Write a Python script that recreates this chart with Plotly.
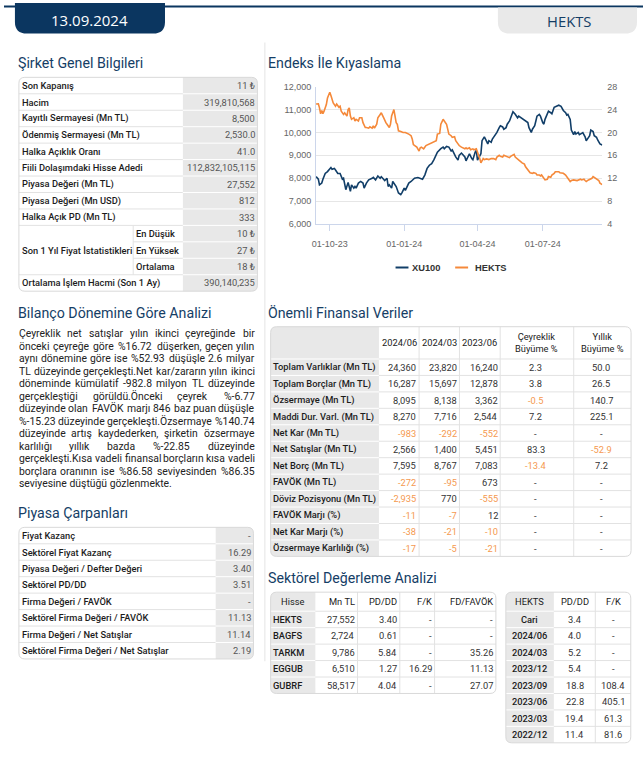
import plotly.graph_objects as go
import pandas as pd

# ---------------------------------------------------------------- data
REPORT_DATE = "13.09.2024"
TICKER = "HEKTS"

GENEL_LABELS = ["Son Kapanış", "Hacim", "Kayıtlı Sermayesi (Mn TL)", "Ödenmiş Sermayesi (Mn TL)",
                "Halka Açıklık Oranı", "Fiili Dolaşımdaki Hisse Adedi", "Piyasa Değeri (Mn TL)",
                "Piyasa Değeri (Mn USD)", "Halka Açık PD (Mn TL)"]
GENEL_VALUES = ["11 ₺", "319,810,568", "8,500", "2,530.0", "41.0", "112,832,105,115",
                "27,552", "812", "333"]
STAT_GROUP = "Son 1 Yıl Fiyat İstatistikleri"
STAT_LABELS = ["En Düşük", "En Yüksek", "Ortalama"]
STAT_VALUES = ["10 ₺", "27 ₺", "18 ₺"]
AVG_VOL_LABEL = "Ortalama İşlem Hacmi (Son 1 Ay)"
AVG_VOL_VALUE = "390,140,235"

PARA_LINES = [
    "Çeyreklik net satışlar yılın ikinci çeyreğinde bir",
    "önceki çeyreğe göre %16.72 düşerken, geçen yılın",
    "aynı dönemine göre ise %52.93 düşüşle 2.6 milyar",
    "TL düzeyinde gerçekleşti.Net kar/zararın yılın ikinci",
    "döneminde kümülatif -982.8 milyon TL düzeyinde",
    "gerçekleştiği görüldü.Önceki çeyrek %-6.77",
    "düzeyinde olan FAVÖK marjı 846 baz puan düşüşle",
    "%-15.23 düzeyinde gerçekleşti.Özsermaye %140.74",
    "düzeyinde artış kaydederken, şirketin özsermaye",
    "karlılığı yıllık bazda %-22.85 düzeyinde",
    "gerçekleşti.Kısa vadeli finansal borçların kısa vadeli",
    "borçlara oranının ise %86.58 seviyesinden %86.35",
    "seviyesine düştüğü gözlenmekte.",
]

CARPAN_LABELS = ["Fiyat Kazanç", "Sektörel Fiyat Kazanç", "Piyasa Değeri / Defter Değeri",
                 "Sektörel PD/DD", "Firma Değeri / FAVÖK", "Sektörel Firma Değeri / FAVÖK",
                 "Firma Değeri / Net Satışlar", "Sektörel Firma Değeri / Net Satışlar"]
CARPAN_VALUES = ["-", "16.29", "3.40", "3.51", "-", "11.13", "11.14", "2.19"]

FIN_HEADERS = ["2024/06", "2024/03", "2023/06", "Çeyreklik<br>Büyüme %", "Yıllık<br>Büyüme %"]
FIN_LABELS = ["Toplam Varlıklar (Mn TL)", "Toplam Borçlar (Mn TL)", "Özsermaye (Mn TL)",
              "Maddi Dur. Varl. (Mn TL)", "Net Kar (Mn TL)", "Net Satışlar (Mn TL)",
              "Net Borç (Mn TL)", "FAVÖK (Mn TL)", "Döviz Pozisyonu (Mn TL)", "FAVÖK Marjı (%)",
              "Net Kar Marjı (%)", "Özsermaye Karlılığı (%)"]
FIN_2024_06 = ["24,360", "16,287", "8,095", "8,270", "-983", "2,566", "7,595", "-272", "-2,935", "-11", "-38", "-17"]
FIN_2024_03 = ["23,820", "15,697", "8,138", "7,716", "-292", "1,400", "8,767", "-95", "770", "-7", "-21", "-5"]
FIN_2023_06 = ["16,240", "12,878", "3,362", "2,544", "-552", "5,451", "7,083", "673", "-555", "12", "-10", "-21"]
FIN_QOQ = ["2.3", "3.8", "-0.5", "7.2", "-", "83.3", "-13.4", "-", "-", "-", "-", "-"]
FIN_YOY = ["50.0", "26.5", "140.7", "225.1", "-", "-52.9", "7.2", "-", "-", "-", "-", "-"]

SEK_HEADERS = ["Hisse", "Mn TL", "PD/DD", "F/K", "FD/FAVÖK"]
SEK_TICKERS = ["HEKTS", "BAGFS", "TARKM", "EGGUB", "GUBRF"]
SEK_MNTL = ["27,552", "2,724", "9,786", "6,510", "58,517"]
SEK_PDDD = ["3.40", "0.61", "5.84", "1.27", "4.04"]
SEK_FK = ["-", "-", "-", "16.29", "-"]
SEK_FDFAVOK = ["-", "-", "35.26", "11.13", "27.07"]

HIST_HEADERS = ["HEKTS", "PD/DD", "F/K"]
HIST_PERIODS = ["Cari", "2024/06", "2024/03", "2023/12", "2023/09", "2023/06", "2023/03", "2022/12"]
HIST_PDDD = ["3.4", "4.0", "5.2", "5.4", "18.8", "22.8", "19.4", "11.4"]
HIST_FK = ["-", "-", "-", "-", "108.4", "405.1", "61.3", "81.6"]

# price chart (trading-day index within the 1-year window)
START, END = "2023-09-14", "2024-09-13"
HOLIDAYS = ["2024-01-01", "2024-04-10", "2024-04-11", "2024-04-12", "2024-04-23", "2024-05-01",
            "2024-06-17", "2024-06-18", "2024-06-19", "2024-07-15", "2024-08-30"]
X_TICKS = ["2023-10-02", "2024-01-02", "2024-04-01", "2024-07-01"]
X_TICK_TEXT = ["01-10-23", "01-01-24", "01-04-24", "01-07-24"]

XU100_DAY = [0, 2, 3, 5, 6, 8, 10, 11, 13, 14, 16, 17, 19, 21, 23, 24, 25, 26, 28, 29, 30, 31, 33, 34, 35,
             37, 39, 41, 42, 44, 46, 49, 50, 52, 54, 56, 57, 59, 60, 62, 63, 64, 66, 67, 69, 70, 72, 74,
             75, 77, 78, 80, 81, 83, 85, 86, 89, 92, 93, 95, 97, 99, 101, 103, 105, 106, 109, 111, 112,
             114, 116, 118, 119, 121, 122, 124, 125, 127, 128, 130, 131, 133, 134, 136, 137, 139, 140,
             141, 143, 144, 145, 147, 148, 150, 151, 153, 154, 156, 158, 160, 161, 163, 164, 166, 167,
             169, 171, 172, 174, 176, 177, 179, 180, 182, 183, 185, 186, 188, 189, 191, 192, 193, 195,
             196, 198, 199, 200, 202, 203, 205, 206, 208, 210, 212, 214, 216, 218, 219, 220, 222, 223,
             225, 226, 227, 229, 230, 232, 233, 235, 236, 237, 239, 240, 242, 243, 245, 246, 248, 250]
XU100_VAL = [8070, 7960, 7710, 7790, 7960, 8210, 8290, 8360, 8470, 8390, 8430, 8360, 8210, 8210, 7960,
             8000, 7710, 7500, 7820, 7570, 7430, 7710, 7570, 7640, 7570, 7790, 7860, 7790, 7570, 7790,
             7930, 8000, 8040, 7930, 8100, 8000, 8070, 7960, 7900, 8000, 7640, 7710, 7570, 7860, 7710,
             7640, 7360, 7290, 7360, 7570, 7470, 7670, 7790, 7860, 7930, 8000, 8030, 8000, 7960, 8140,
             8430, 8570, 8640, 8810, 9000, 9140, 9290, 9360, 9290, 9390, 9360, 9190, 9240, 9000, 8930,
             8790, 9000, 9100, 9040, 8930, 8760, 8930, 9070, 8860, 8810, 9140, 9210, 8790, 9000, 9070,
             9640, 9810, 9710, 9500, 9640, 9570, 9710, 9860, 10000, 10210, 10290, 10240, 10140, 10210,
             10360, 10500, 10790, 10900, 10790, 10640, 10710, 10640, 10570, 10500, 10500, 10430, 10210,
             10000, 10140, 10290, 10500, 10710, 10790, 10710, 10430, 10360, 10570, 10860, 10930, 10860,
             10810, 11100, 11140, 11190, 11140, 10960, 10860, 10760, 10790, 10570, 10100, 9900, 10040,
             9930, 10000, 9900, 9960, 9990, 9810, 9640, 9710, 9860, 10100, 10040, 9860, 9790, 9670,
             9500, 9450]

HEKTS_DAY = [0, 2, 3, 4, 5, 6, 7, 8, 9, 10, 12, 13, 14, 15, 17, 18, 20, 21, 22, 24, 25, 27, 28, 29, 30,
             31, 33, 34, 35, 37, 38, 40, 41, 43, 44, 46, 47, 49, 50, 51, 53, 54, 56, 57, 59, 60, 61, 62,
             63, 64, 65, 66, 68, 69, 70, 71, 72, 74, 76, 78, 80, 81, 83, 84, 85, 88, 90, 91, 92, 94, 96,
             99, 101, 103, 105, 106, 108, 109, 111, 112, 114, 115, 116, 118, 119, 121, 122, 124, 125,
             127, 128, 130, 131, 132, 134, 135, 137, 138, 140, 141, 142, 143, 144, 145, 146, 147, 149,
             151, 153, 155, 157, 158, 160, 161, 163, 164, 166, 167, 169, 170, 171, 173, 174, 176, 177,
             179, 180, 182, 183, 184, 186, 187, 189, 190, 192, 193, 195, 196, 197, 199, 200, 202, 203,
             205, 206, 208, 209, 210, 212, 213, 215, 216, 218, 219, 221, 222, 223, 225, 228, 231, 232,
             234, 235, 236, 238, 239, 241, 242, 244, 245, 247, 248, 250]
HEKTS_VAL = [24.97, 25.0, 24.29, 23.26, 23.83, 23.26, 23.71, 24.29, 24.86, 26.0, 27.03, 26.46, 25.71,
             25.14, 24.57, 24.97, 24.4, 24.57, 23.71, 23.14, 23.43, 22.86, 24.0, 24.29, 22.86, 22.29,
             22.57, 22.0, 22.29, 22.0, 22.57, 22.57, 21.71, 20.86, 20.86, 20.74, 20.97, 20.74, 21.14,
             20.74, 21.43, 22.57, 23.14, 23.43, 22.57, 22.0, 21.71, 21.43, 21.14, 20.86, 21.43, 22.86,
             24.0, 22.86, 21.71, 21.43, 20.29, 20.17, 20.0, 20.0, 19.83, 19.71, 19.43, 18.86, 17.89,
             17.43, 16.74, 17.31, 17.43, 17.14, 17.71, 18.0, 18.11, 18.29, 18.57, 19.71, 19.83, 21.43,
             22.29, 22.0, 21.43, 20.57, 19.71, 19.43, 19.14, 19.26, 18.57, 18.0, 17.71, 17.43, 17.31,
             17.14, 17.31, 17.14, 17.31, 16.97, 17.14, 16.97, 17.14, 16.57, 16.29, 15.43, 14.69, 15.03,
             15.43, 15.26, 15.37, 15.26, 15.43, 15.43, 15.26, 15.71, 16.0, 15.83, 15.71, 16.0, 15.83,
             15.71, 15.6, 15.83, 16.0, 16.17, 15.71, 15.43, 15.14, 14.86, 14.69, 14.46, 14.0, 13.71,
             13.14, 12.97, 12.86, 12.97, 12.86, 12.57, 12.57, 12.4, 12.57, 12.0, 11.71, 11.83, 12.29,
             12.17, 12.57, 12.86, 13.14, 13.14, 13.14, 12.97, 12.97, 12.86, 12.57, 12.29, 11.83, 11.43,
             11.6, 11.71, 11.6, 11.83, 11.71, 11.83, 11.6, 11.43, 11.71, 11.83, 12.0, 12.29, 12.0, 12.0,
             11.6, 11.14, 10.9]

# ---------------------------------------------------------------- helpers
W, H = 643, 760
NAVY = "#0b3660"
HEAD = "#153e66"
GRAY = "#e8e8e8"
SEP = "#e2e2e2"
BORDER = "#d9d9d9"
NEG = "#f5994f"
ORANGE = "#f5893a"
LINE_NAVY = "#113e68"

shapes, annos = [], []


def X(px):
    return px / W


def Y(py):
    return 1 - py / H


def text(x, y, s, size=9.3, color="#222", weight=400, anchor="left", family="Roboto"):
    annos.append(dict(x=X(x), y=Y(y), xref="paper", yref="paper", text=s, showarrow=False,
                      xanchor=anchor, yanchor="middle", align=anchor, borderpad=0, borderwidth=0,
                      font=dict(family=family, size=size, color=color, weight=weight)))


def line(x0, y0, x1, y1, color, width=1):
    shapes.append(dict(type="line", xref="paper", yref="paper", x0=X(x0), y0=Y(y0),
                       x1=X(x1), y1=Y(y1), line=dict(color=color, width=width), layer="above"))


def rpath(x0, y0, x1, y1, r, corners, fill=None, lc=None, lw=0):
    tl = r if "tl" in corners else 0
    tr = r if "tr" in corners else 0
    br = r if "br" in corners else 0
    bl = r if "bl" in corners else 0
    p = (f"M {X(x0 + tl)},{Y(y0)} L {X(x1 - tr)},{Y(y0)} Q {X(x1)},{Y(y0)} {X(x1)},{Y(y0 + tr)} "
         f"L {X(x1)},{Y(y1 - br)} Q {X(x1)},{Y(y1)} {X(x1 - br)},{Y(y1)} "
         f"L {X(x0 + bl)},{Y(y1)} Q {X(x0)},{Y(y1)} {X(x0)},{Y(y1 - bl)} "
         f"L {X(x0)},{Y(y0 + tl)} Q {X(x0)},{Y(y0)} {X(x0 + tl)},{Y(y0)} Z")
    d = dict(type="path", xref="paper", yref="paper", path=p, layer="above",
             line=dict(width=lw, color=lc or "rgba(0,0,0,0)"))
    d["fillcolor"] = fill if fill else "rgba(0,0,0,0)"
    shapes.append(d)


def heading(x, y, s):
    text(x, y, s, size=14.2, color=HEAD, family="Roboto")


def vcolor(v):
    return NEG if (v.startswith("-") and len(v) > 1) else "#333"


# ---------------------------------------------------------------- header
line(0, 1.5, W, 1.5, NAVY, 2)
rpath(11, -2, 162, 29, 12, "br bl", fill=NAVY)
text(86.5, 15.5, REPORT_DATE, size=15, color="white", anchor="center", family="Open Sans")
rpath(497, 2.5, 637, 29, 12, "br bl", fill="#e9e9e9")
text(569, 16, TICKER, size=14.8, color=HEAD, anchor="center", family="Open Sans")
line(262.5, 38, 262.5, 665, "#e4e4e4")

# ---------------------------------------------------------------- Şirket Genel Bilgileri
heading(14, 58.5, "Şirket Genel Bilgileri")
tx0, tx1, txv, txs, ttop, rh = 15, 255, 180, 130, 73.3, 16.67
nrows = len(GENEL_LABELS) + len(STAT_LABELS) + 1
tb = ttop + nrows * rh
rpath(tx0, ttop, tx1, tb, 6, "tl tr br bl", fill="white")
rpath(txv, ttop, tx1, tb, 6, "tr br", fill=GRAY)
ns = len(GENEL_LABELS)
for i in range(1, nrows):
    yy = ttop + i * rh
    if ns < i < ns + len(STAT_LABELS):
        line(txs, yy, txv, yy, SEP)
    else:
        line(tx0, yy, txv, yy, SEP)
    line(txv, yy, tx1, yy, "white")
line(txs, ttop + ns * rh, txs, ttop + (ns + len(STAT_LABELS)) * rh, SEP)
rpath(tx0, ttop, tx1, tb, 6, "tl tr br bl", lc=BORDER, lw=1)
for i, (lab, val) in enumerate(zip(GENEL_LABELS, GENEL_VALUES)):
    yc = ttop + (i + 0.5) * rh
    text(18.5, yc, lab, weight=500, color="#1c1c1c")
    text(252.5, yc, val, color="#555", anchor="right")
text(18.5, ttop + (ns + 1.5) * rh, STAT_GROUP, weight=500, color="#1c1c1c")
for j, (lab, val) in enumerate(zip(STAT_LABELS, STAT_VALUES)):
    yc = ttop + (ns + j + 0.5) * rh
    text(132.5, yc, lab, weight=500, color="#1c1c1c")
    text(252.5, yc, val, color="#555", anchor="right")
yc = ttop + (nrows - 0.5) * rh
text(18.5, yc, AVG_VOL_LABEL, weight=500, color="#1c1c1c")
text(252.5, yc, AVG_VOL_VALUE, color="#555", anchor="right")

# ---------------------------------------------------------------- Bilanço paragraph (justified)
heading(14, 312.3, "Bilanço Dönemine Göre Analizi")
RB_W = dict(zip("abcdefghijklmnopqrstuvwxyz",
                [1088, 1120, 1046, 1126, 1058, 694, 1120, 1100, 486, 478, 1014, 486, 1753, 1102, 1141,
                 1120, 1134, 678, 1031, 653, 1101, 968, 1502, 991, 946, 991]))
RB_W.update({"ç": 1046, "ğ": 1120, "ı": 486, "ö": 1141, "ş": 1031, "ü": 1101, "Ç": 1333, "Ö": 1408,
             "T": 1222, "L": 1117, "N": 1460, "F": 1132, "A": 1336, "V": 1302, "K": 1284, "İ": 557,
             "%": 1501, ".": 539, ",": 402, "-": 553, "/": 844, " ": 507})
for dch in "0123456789":
    RB_W[dch] = 1152
PSIZE = 10.4
PL, PR = 15, 252.3


def est_w(s):
    return sum(RB_W.get(c, 1100) for c in s) / 2048 * PSIZE * 1.03


for li, ln in enumerate(PARA_LINES):
    yc = 333 + li * 12.67
    if li == len(PARA_LINES) - 1:
        text(PL, yc, ln, size=PSIZE, color="#222")
        continue
    words = ln.split(" ")
    ws = [est_w(w) for w in words]
    gap = (PR - PL - sum(ws)) / (len(words) - 1)
    xx = PL
    for k, wd in enumerate(words):
        if k == 0:
            text(PL, yc, wd, size=PSIZE, color="#222")
        elif k == len(words) - 1:
            text(PR, yc, wd, size=PSIZE, color="#222", anchor="right")
        else:
            text(xx + ws[k] / 2, yc, wd, size=PSIZE, color="#222", anchor="center")
        xx += ws[k] + gap

# ---------------------------------------------------------------- Piyasa Çarpanları
heading(14, 514.5, "Piyasa Çarpanları")
cx0, cx1, cxv, ctop = 15, 251, 213, 529.3
cb = ctop + len(CARPAN_LABELS) * rh
rpath(cx0, ctop, cx1, cb, 6, "tl tr br bl", fill="white")
rpath(cxv, ctop, cx1, cb, 6, "tr br", fill=GRAY)
for i in range(1, len(CARPAN_LABELS)):
    yy = ctop + i * rh
    line(cx0, yy, cxv, yy, SEP)
    line(cxv, yy, cx1, yy, "white")
rpath(cx0, ctop, cx1, cb, 6, "tl tr br bl", lc=BORDER, lw=1)
for i, (lab, val) in enumerate(zip(CARPAN_LABELS, CARPAN_VALUES)):
    yc = ctop + (i + 0.5) * rh
    text(18, yc, lab, weight=500, color="#1c1c1c")
    text(248.5, yc, val, color="#555", anchor="right")

# ---------------------------------------------------------------- Önemli Finansal Veriler
heading(266, 312.3, "Önemli Finansal Veriler")
fe = [268.3, 377.3, 417.7, 458.3, 499.3, 573.3, 631]
ftop, fhb = 326, 358.7
fb = fhb + len(FIN_LABELS) * rh
rpath(fe[0], ftop, fe[-1], fb, 6, "tl tr br bl", fill="white")
rpath(fe[0], ftop, fe[1], fb, 6, "tl bl", fill=GRAY)
for i in range(len(FIN_LABELS)):
    yy = fhb + i * rh
    line(fe[0], yy, fe[1], yy, "white")
    line(fe[1], yy, fe[-1], yy, SEP)
for xe in fe[2:-1]:
    line(xe, ftop, xe, fb, SEP)
rpath(fe[0], ftop, fe[-1], fb, 6, "tl tr br bl", lc=BORDER, lw=1)
for j, hd in enumerate(FIN_HEADERS):
    text((fe[j + 1] + fe[j + 2]) / 2, (ftop + fhb) / 2, hd, color="#222", anchor="center")
fin_cols = [FIN_2024_06, FIN_2024_03, FIN_2023_06, FIN_QOQ, FIN_YOY]
for i, lab in enumerate(FIN_LABELS):
    yc = fhb + (i + 0.5) * rh
    text(270.5, yc, lab, weight=500, color="#1c1c1c")
    for j, col in enumerate(fin_cols):
        v = col[i]
        if j < 3:
            text(fe[j + 2] - 2.7, yc, v, color=vcolor(v), anchor="right")
        else:
            text((fe[j + 1] + fe[j + 2]) / 2 - 1, yc, v, color=vcolor(v), anchor="center")

# ---------------------------------------------------------------- Sektörel Değerleme Analizi
heading(266, 580.3, "Sektörel Değerleme Analizi")
se = [268.3, 313.3, 355.7, 398.3, 433.3, 495]
stop, shb = 595, 614.3
sb = shb + len(SEK_TICKERS) * rh
rpath(se[0], stop, se[-1], sb, 6, "tl tr br bl", fill="white")
rpath(se[0], stop, se[1], sb, 6, "tl bl", fill=GRAY)
for i in range(len(SEK_TICKERS)):
    yy = shb + i * rh
    line(se[0], yy, se[1], yy, "white")
    line(se[1], yy, se[-1], yy, SEP)
for xe in se[2:-1]:
    line(xe, stop, xe, sb, SEP)
rpath(se[0], stop, se[-1], sb, 6, "tl tr br bl", lc=BORDER, lw=1)
hy = (stop + shb) / 2
text((se[0] + se[1]) / 2, hy, SEK_HEADERS[0], color="#222", anchor="center")
for j, hd in enumerate(SEK_HEADERS[1:]):
    text(se[j + 2] - 3, hy, hd, color="#222", anchor="right")
sek_cols = [SEK_MNTL, SEK_PDDD, SEK_FK, SEK_FDFAVOK]
for i, tk in enumerate(SEK_TICKERS):
    yc = shb + (i + 0.5) * rh
    text(270.5, yc, tk, weight=500, color="#1c1c1c")
    for j, col in enumerate(sek_cols):
        text(se[j + 2] - 3, yc, col[i], color="#333", anchor="right")

he = [505, 553.3, 595, 630.7]
hb = shb + len(HIST_PERIODS) * rh
rpath(he[0], stop, he[-1], hb, 6, "tl tr br bl", fill="white")
rpath(he[0], stop, he[1], hb, 6, "tl bl", fill=GRAY)
for i in range(len(HIST_PERIODS)):
    yy = shb + i * rh
    line(he[0], yy, he[1], yy, "white")
    line(he[1], yy, he[-1], yy, SEP)
line(he[2], stop, he[2], hb, SEP)
rpath(he[0], stop, he[-1], hb, 6, "tl tr br bl", lc=BORDER, lw=1)
for j, hd in enumerate(HIST_HEADERS):
    text((he[j] + he[j + 1]) / 2, hy, hd, color="#222", anchor="center")
for i, per in enumerate(HIST_PERIODS):
    yc = shb + (i + 0.5) * rh
    text((he[0] + he[1]) / 2, yc, per, weight=500, color="#1c1c1c", anchor="center")
    text((he[1] + he[2]) / 2, yc, HIST_PDDD[i], color="#333", anchor="center")
    text((he[2] + he[3]) / 2, yc, HIST_FK[i], color="#333", anchor="center")

# ---------------------------------------------------------------- Endeks İle Kıyaslama chart
heading(266, 58.8, "Endeks İle Kıyaslama")
days = [d for d in pd.bdate_range(START, END) if d.strftime("%Y-%m-%d") not in HOLIDAYS]
xu_x = [days[i] for i in XU100_DAY]
hk_x = [days[i] for i in HEKTS_DAY]

fig = go.Figure()
fig.add_trace(go.Scatter(x=xu_x, y=XU100_VAL, mode="lines", name="XU100",
                         line=dict(color=LINE_NAVY, width=1.6), yaxis="y", hoverinfo="skip"))
fig.add_trace(go.Scatter(x=hk_x, y=HEKTS_VAL, mode="lines", name="HEKTS",
                         line=dict(color=ORANGE, width=1.6), yaxis="y2", hoverinfo="skip"))

# legend (drawn manually to match the short legend keys)
line(394, 266, 407, 266, LINE_NAVY, 2)
text(411, 266, "XU100", size=9.3, color="#333", weight=700, family="Liberation Sans")
line(454, 266, 467, 266, ORANGE, 2)
text(474, 266, "HEKTS", size=9.3, color="#333", weight=700, family="Liberation Sans")

tickfont = dict(family="Liberation Sans", size=9, color="#666")
fig.update_layout(
    width=W, height=H, margin=dict(l=0, r=0, t=0, b=0),
    paper_bgcolor="white", plot_bgcolor="white", showlegend=False,
    xaxis=dict(domain=[X(314), X(602)], type="date", range=[days[0], days[-1]],
               rangebreaks=[dict(bounds=["sat", "mon"]), dict(values=HOLIDAYS)],
               tickmode="array", tickvals=X_TICKS, ticktext=X_TICK_TEXT,
               ticks="outside", ticklen=6, tickcolor="#ccd6eb", showgrid=False,
               showline=True, linecolor="#ccd6eb", tickfont=tickfont, ticklabelstandoff=5),
    yaxis=dict(domain=[Y(222), Y(82.7)], range=[6000, 12000], dtick=1000, tickformat=",",
               gridcolor="#e6e6e6", showline=True, linecolor="#ccd6eb", zeroline=False,
               tickfont=tickfont, ticklabelstandoff=2),
    yaxis2=dict(overlaying="y", side="right", range=[4, 28], dtick=4, showgrid=False,
                zeroline=False, showline=False, tickfont=tickfont, ticklabelstandoff=4),
    shapes=shapes, annotations=annos,
)

fig.write_html("out.html", config={"displayModeBar": False},
               post_script="document.body.style.margin='0';document.body.style.overflow='hidden';")
